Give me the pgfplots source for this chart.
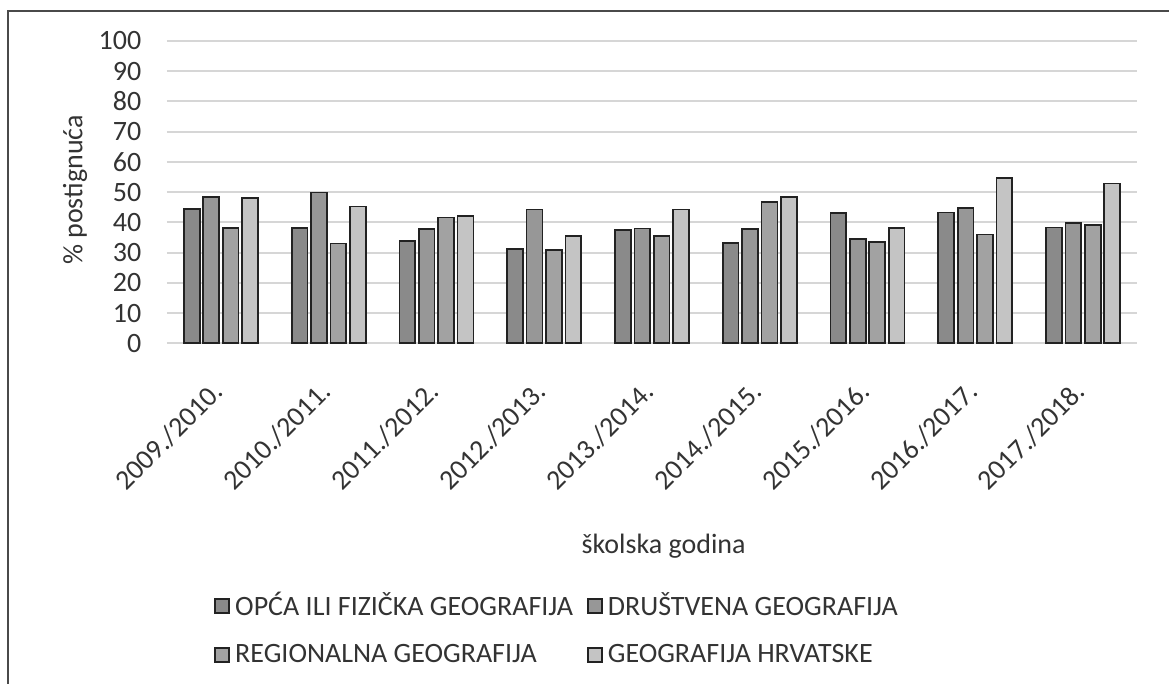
\documentclass[border=0pt]{standalone}
\usepackage{fontspec}
\setmainfont{Carlito}
\usepackage{pgfplots}
\pgfplotsset{compat=1.18}
\definecolor{txt}{HTML}{333333}
\definecolor{frm}{HTML}{4A4A4A}
\definecolor{grd}{HTML}{D6D6D6}
\definecolor{bd}{HTML}{222222}
\definecolor{sa}{HTML}{8A8A8A}
\definecolor{sb}{HTML}{979797}
\definecolor{sc}{HTML}{A2A2A2}
\definecolor{sd}{HTML}{C4C4C4}
\begin{document}
\fontsize{14pt}{17pt}\selectfont
\begin{tikzpicture}
\path[use as bounding box] (0,0) rectangle (584.5pt,342pt);
\draw[color=frm, line width=0.9pt] (4pt,0) -- (4pt,336.5pt) -- (584.5pt,336.5pt);
\begin{axis}[
  at={(83.5pt,170.35pt)}, anchor=south west,
  scale only axis, width=485pt, height=151.15pt,
  ybar=1.8pt, bar width=7.9pt,
  xmin=-0.5, xmax=8.5, ymin=0, ymax=100,
  xtick={0,...,8},
  xticklabels={2009./2010.,2010./2011.,2011./2012.,2012./2013.,2013./2014.,2014./2015.,2015./2016.,2016./2017.,2017./2018.},
  ytick={0,10,...,100},
  ymajorgrids, grid style={color=grd, line width=1pt},
  axis line style={draw=none},
  major tick length=0pt,
  /pgf/number format/assume math mode=true,
  tick label style={font=\fontsize{14pt}{17pt}\selectfont, text=txt},
  yticklabel style={xshift=-8pt},
  xticklabel style={xshift=2pt, yshift=-25pt, rotate=45, anchor=base east, inner sep=0pt},
  xlabel={školska godina},
  ylabel={\% postignuća},
  label style={font=\fontsize{14pt}{17pt}\selectfont, text=txt},
  xlabel style={at={(axis description cs:0.512,-0.6705)}, anchor=center},
  ylabel style={at={(axis description cs:-0.0948,0.507)}, anchor=center},
  legend image code/.code={\draw[#1, line width=0.8pt] (0pt,-3.5pt) rectangle (7pt,3.5pt); \path[draw=none,fill=none] (0pt,0pt) -- (9pt,0pt);},
  legend cell align=left,
  legend columns=2,
  legend style={at={(axis description cs:0.0423,-0.803)}, anchor=north west,
    draw=none, fill=none, font=\fontsize{14pt}{17pt}\selectfont, text=txt,
    row sep=10pt, nodes={inner sep=1pt},
    /tikz/every even column/.append style={column sep=6pt}},
]
\addplot[fill=sa, draw=bd, line width=0.85pt] coordinates {(0,44.5) (1,38.1) (2,33.8) (3,31.1) (4,37.5) (5,33.2) (6,43.0) (7,43.3) (8,38.3)};
\addplot[fill=sb, draw=bd, line width=0.85pt] coordinates {(0,48.4) (1,49.9) (2,37.9) (3,44.3) (4,38.0) (5,37.9) (6,34.4) (7,44.7) (8,39.9)};
\addplot[fill=sc, draw=bd, line width=0.85pt] coordinates {(0,38.2) (1,33.0) (2,41.6) (3,30.8) (4,35.5) (5,46.8) (6,33.4) (7,36.0) (8,39.1)};
\addplot[fill=sd, draw=bd, line width=0.85pt] coordinates {(0,48.0) (1,45.3) (2,42.1) (3,35.4) (4,44.3) (5,48.3) (6,38.1) (7,54.7) (8,52.9)};
\legend{OPĆA ILI FIZIČKA GEOGRAFIJA, DRUŠTVENA GEOGRAFIJA, REGIONALNA GEOGRAFIJA, GEOGRAFIJA HRVATSKE}
\end{axis}
\end{tikzpicture}
\end{document}
